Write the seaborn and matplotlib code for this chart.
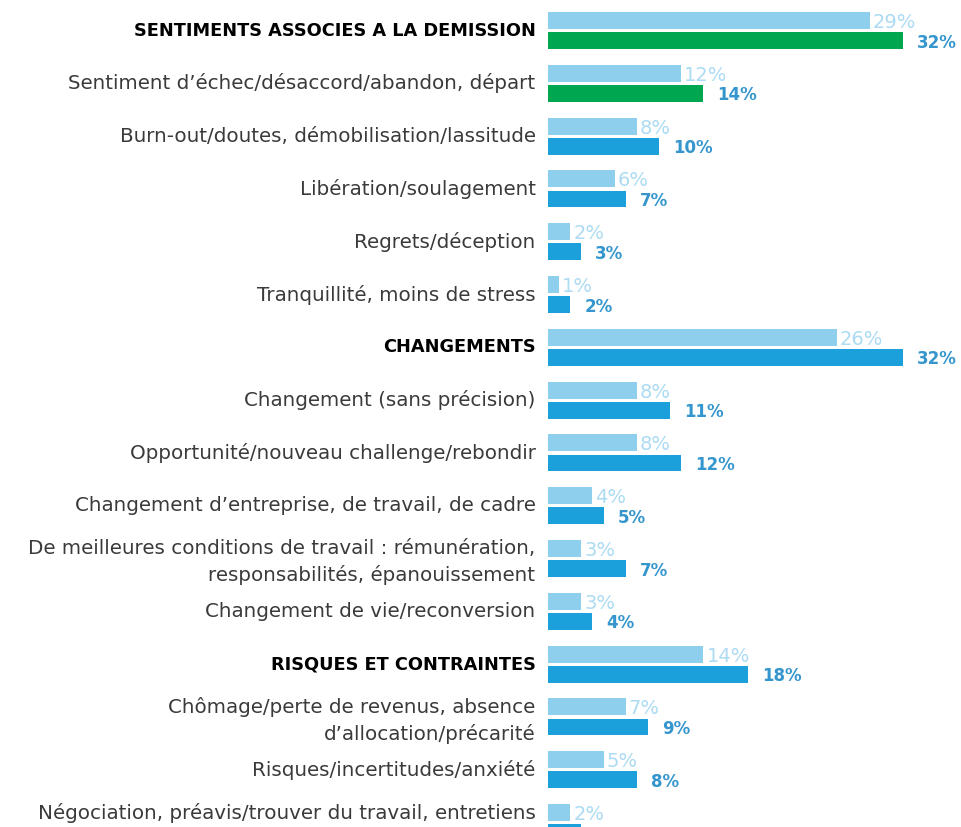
import matplotlib
matplotlib.use("Agg")
import matplotlib.pyplot as plt
import matplotlib.transforms as mtransforms
import pandas as pd
import seaborn as sns

# categories (top to bottom)
categories = [
    "SENTIMENTS ASSOCIES A LA DEMISSION",
    "Sentiment d’échec/désaccord/abandon, départ",
    "Burn-out/doutes, démobilisation/lassitude",
    "Libération/soulagement",
    "Regrets/déception",
    "Tranquillité, moins de stress",
    "CHANGEMENTS",
    "Changement (sans précision)",
    "Opportunité/nouveau challenge/rebondir",
    "Changement d’entreprise, de travail, de cadre",
    "De meilleures conditions de travail : rémunération,\nresponsabilités, épanouissement",
    "Changement de vie/reconversion",
    "RISQUES ET CONTRAINTES",
    "Chômage/perte de revenus, absence\nd’allocation/précarité",
    "Risques/incertitudes/anxiété",
    "Négociation, préavis/trouver du travail, entretiens\nd’embauche/période d’essai",
]
headers = ["SENTIMENTS ASSOCIES A LA DEMISSION", "CHANGEMENTS", "RISQUES ET CONTRAINTES"]

# light bars (top of each pair) and dark bars (bottom)
light_vals = [29, 12, 8, 6, 2, 1, 26, 8, 8, 4, 3, 3, 14, 7, 5, 2]
dark_vals = [32, 14, 10, 7, 3, 2, 32, 11, 12, 5, 7, 4, 18, 9, 8, 3]
green_rows = [0, 1]

light_col = "#8ecfee"
dark_col = "#1ba0dc"
green_col = "#00a650"

df = pd.DataFrame({
    "categorie": categories * 2,
    "serie": ["avant"] * len(categories) + ["apres"] * len(categories),
    "valeur": light_vals + dark_vals,
})

sns.set_style("white")
plt.rcParams["font.family"] = ["DejaVu Sans"]

fig = plt.figure(figsize=(9.61, 8.28), dpi=100)
ax = fig.add_axes([548 / 961, 0, 413 / 961, 1])

sns.barplot(data=df, y="categorie", x="valeur", hue="serie", order=categories,
            hue_order=["avant", "apres"], palette=[light_col, dark_col],
            saturation=1, width=0.76, gap=0.16, legend=False, ax=ax,
            linewidth=0, errorbar=None)

# first block dark bars in green
for i in green_rows:
    ax.containers[1].patches[i].set_facecolor(green_col)

# value labels
for bar, v in zip(ax.containers[0].patches, light_vals):
    ax.annotate(f"{v}%", xy=(bar.get_width(), bar.get_y() + bar.get_height() / 2),
                xytext=(3, -1), textcoords="offset pixels", va="center", ha="left",
                fontsize=14, color="#acdbf3")
for bar, v in zip(ax.containers[1].patches, dark_vals):
    ax.annotate(f"{v}%", xy=(bar.get_width(), bar.get_y() + bar.get_height() / 2),
                xytext=(14, -1), textcoords="offset pixels", va="center", ha="left",
                fontsize=12, fontweight="bold", color="#3596cd")

ax.set_xlim(0, 413 / 11.1)
ax.set_ylim(15.085, -0.597)
ax.set_xticks([])
ax.set_xlabel("")
ax.set_ylabel("")
ax.tick_params(axis="y", length=0, pad=9)
shift = mtransforms.ScaledTranslation(0, 3 / 100, fig.dpi_scale_trans)
for lab in ax.get_yticklabels():
    lab.set_transform(lab.get_transform() + shift)
    lab.set_linespacing(1.45)
    if lab.get_text() in headers:
        lab.set_fontsize(12.8)
        lab.set_fontweight("bold")
        lab.set_color("black")
    else:
        lab.set_fontsize(14.3)
        lab.set_color("#3a3a3a")
sns.despine(ax=ax, left=True, bottom=True)

fig.savefig("out.png", dpi=100, facecolor="white")
